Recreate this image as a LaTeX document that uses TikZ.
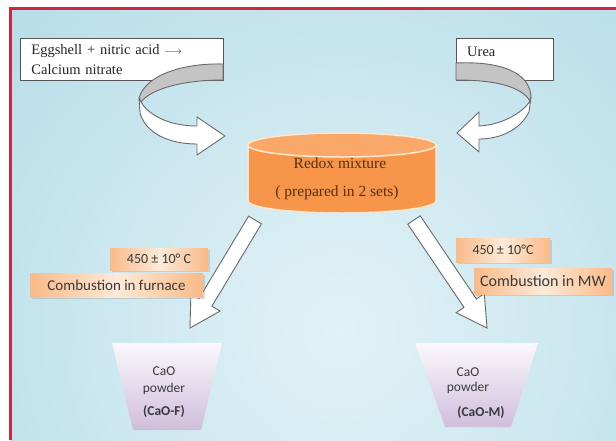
\documentclass[tikz,border=0pt]{standalone}
\usepackage{fontspec}
\setmainfont{Liberation Serif}
\newfontfamily\carl{Carlito}
\usetikzlibrary{shadows}
\definecolor{bgouter}{RGB}{146,203,219}
\definecolor{bginner}{RGB}{226,242,247}
\definecolor{framered}{RGB}{208,38,62}
\definecolor{boxgray}{RGB}{85,85,85}
\definecolor{ribline}{RGB}{105,105,105}
\definecolor{ribgray}{RGB}{196,196,196}
\definecolor{cylbody}{RGB}{247,150,75}
\definecolor{cyltop}{RGB}{249,168,106}
\definecolor{cylrim}{RGB}{253,232,205}
\definecolor{cyltext}{RGB}{80,50,22}
\definecolor{peachdark}{RGB}{249,186,136}
\definecolor{peachlight}{RGB}{253,234,217}
\definecolor{lavtop}{RGB}{250,248,252}
\definecolor{lavbot}{RGB}{208,190,220}
\definecolor{txtgray}{RGB}{58,58,58}
\tikzset{
  inbox/.style={draw=boxgray, fill=white, line width=0.9pt, inner sep=0pt},
  ribback/.style={draw=ribline, fill=ribgray, line width=0.9pt, line join=round},
  ribfront/.style={draw=ribline, fill=white, line width=0.9pt, line join=round},
  blockarrow/.style={draw=ribline, fill=white, line width=0.9pt, line join=miter},
  serif15/.style={font=\fontsize{14.5}{20}\selectfont, text=black!85},
  cyltxt/.style={font=\fontsize{15.5}{20}\selectfont, text=cyltext, anchor=base},
  condbox/.style={left color=peachdark, right color=peachdark, middle color=peachlight,
    draw=none, drop shadow={opacity=0.25, shadow xshift=1.5pt, shadow yshift=-1.5pt},
    inner sep=0pt, font=\carl\fontsize{14}{16}\selectfont, text=txtgray},
  prodtxt/.style={font=\carl\fontsize{13.5}{16}\selectfont, text=txtgray, anchor=base},
  trap/.style={top color=lavtop, bottom color=lavbot}
}
\begin{document}
\begin{tikzpicture}[x=1pt,y=-1pt]
\useasboundingbox (0,0) rectangle (616,440);
\fill[white] (0,0) rectangle (616,440);
% background
\begin{scope}
  \clip (10,8) rectangle (616,440);
  \fill[bgouter] (10,8) rectangle (616,440);
  \shade[inner color=bginner, outer color=bgouter] (340,330) circle (860);
\end{scope}
\draw[framered, line width=2.6pt] (10.5,440) -- (10.5,8.5) -- (616,8.5);

% input boxes
\node[inbox, minimum width=203pt, minimum height=42pt, anchor=north west,
      text width=181pt, align=left, serif15] (egg) at (20,38)
      {Eggshell + nitric acid {\fontsize{11}{11}\selectfont$\longrightarrow$}\\Calcium nitrate};
\node[inbox, minimum width=97pt, minimum height=42pt, anchor=north west] (urea) at (456,38) {};
\node[serif15, anchor=base west, inner sep=0pt] (ureatxt) at (467,56) {Urea};

% left curved ribbon arrow
\draw[ribback] (223,64) .. controls (185,63) and (146,74) .. (139,98)
  -- (141,102) .. controls (152,88) and (185,80) .. (223,80) -- cycle;
\draw[ribfront] (139,98) -- (140,113) .. controls (146,134) and (170,144) .. (197,144)
  -- (197,155) -- (225,136) -- (197,117) -- (197,126)
  .. controls (172,126) and (150,117) .. (141,102) -- cycle;

% right curved ribbon arrow
\draw[ribback] (456,63) .. controls (500,61) and (530,72) .. (531,97)
  -- (530,101) .. controls (522,88) and (500,80) .. (456,80) -- cycle;
\draw[ribfront] (531,97) -- (529,112) .. controls (520,130) and (500,139) .. (479,139)
  -- (479,152) -- (457,133) -- (479,112) -- (479,126)
  .. controls (500,125) and (522,114) .. (530,101) -- cycle;

% cylinder
\filldraw[fill=cylbody, draw=cylrim, line width=1.5pt] (248,145) -- (248,201)
  arc[start angle=180, end angle=360, x radius=94pt, y radius=12pt] -- (436,145) -- cycle;
\filldraw[fill=cyltop, draw=cylrim, line width=1.5pt] (342,145) ellipse[x radius=94pt, y radius=12pt];
\node[cyltxt] (redox1) at (340,168) {Redox mixture};
\node[cyltxt] (redox2) at (337,196) {( prepared in 2 sets)};

% straight block arrows
\draw[blockarrow] (261.43,223.87) -- (211.90,306.17) -- (220.04,311.07) -- (190,328)
  -- (190.90,293.53) -- (199.04,298.43) -- (248.57,216.13) -- cycle;
\draw[blockarrow] (420.21,215.80) -- (476.41,298.94) -- (484.28,293.62) -- (487,328)
  -- (456.12,312.66) -- (463.99,307.34) -- (407.79,224.20) -- cycle;

% condition labels
\node[condbox, minimum width=98pt, minimum height=22pt] (lt1) at (159,259) {450 ± 10° C};
\node[condbox, minimum width=173pt, minimum height=24pt, font=\carl\fontsize{15}{16}\selectfont] (lt2) at (116.5,285) {Combustion in furnace};
\node[condbox, minimum width=94pt, minimum height=24pt] (rt1) at (503,250) {450 ± 10°C};
\node[condbox, minimum width=138pt, minimum height=26pt, font=\carl\fontsize{16}{17}\selectfont] (rt2) at (543,281) {Combustion in MW};

% products
\shade[trap] (112,343) -- (222,343) -- (201,430) -- (133,430) -- cycle;
\node[prodtxt] (cf1) at (164,375) {CaO};
\node[prodtxt] (cf2) at (164,392) {powder};
\node[prodtxt] (cf3) at (164,415) {\textbf{(CaO-F)}};
\shade[trap] (415,343) -- (538,343) -- (511,427) -- (445,427) -- cycle;
\node[prodtxt] (cm1) at (468,376) {CaO};
\node[prodtxt] (cm2) at (468,391) {powder};
\node[prodtxt] (cm3) at (481,416) {\textbf{(CaO-M)}};
\end{tikzpicture}
\end{document}
